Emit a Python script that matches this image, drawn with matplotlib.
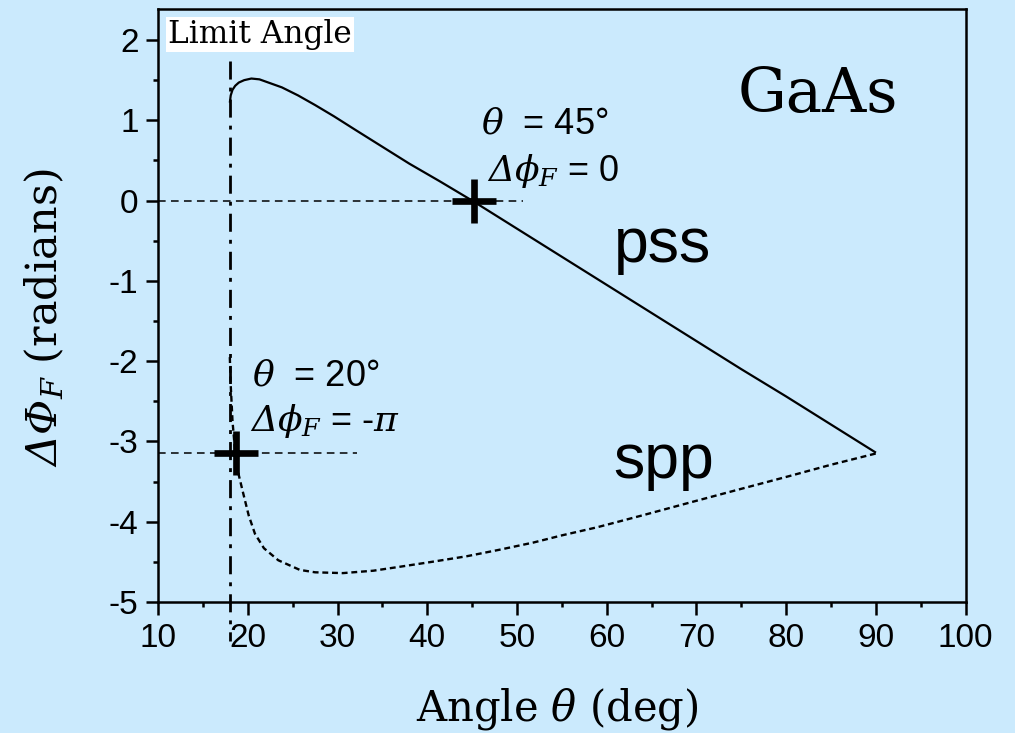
import numpy as np
import matplotlib
matplotlib.use("Agg")
import matplotlib.pyplot as plt

# Fresnel phase difference on total internal reflection, GaAs
pss_angle = [18.0, 18.1, 18.3, 18.6, 19.0, 19.6, 20.4, 21.3, 22.3, 23.8, 25.6, 27.5,
             29.6, 32.0, 35.0, 38.0, 41.4, 45.0, 50.0, 55.0, 60.0, 65.0, 70.0, 75.0,
             80.0, 85.0, 90.0]
pss_phase = [1.22, 1.31, 1.38, 1.43, 1.47, 1.50, 1.52, 1.51, 1.47, 1.41, 1.31, 1.19,
             1.05, 0.88, 0.67, 0.46, 0.24, 0.00, -0.35, -0.70, -1.05, -1.40, -1.75,
             -2.10, -2.44, -2.79, -3.14]

spp_angle = [18.0, 18.1, 18.3, 18.6, 19.0, 19.5, 20.1, 20.8, 21.8, 23.4, 25.8, 27.5,
             30.6, 34.0, 37.0, 40.5, 44.4, 48.0, 51.8, 55.0, 58.9, 64.0, 69.3, 75.0,
             80.4, 85.0, 90.0]
spp_phase = [-1.95, -2.30, -2.75, -3.14, -3.42, -3.65, -3.92, -4.15, -4.33, -4.48,
             -4.60, -4.63, -4.64, -4.61, -4.56, -4.50, -4.43, -4.35, -4.26, -4.17,
             -4.07, -3.92, -3.76, -3.59, -3.43, -3.29, -3.15]

limit_angle = 18.0
marked_angle = [45.2, 18.7]
marked_phase = [0.0, -np.pi]
guide_end = [50.7, 32.2]

x_ticks = [10, 20, 30, 40, 50, 60, 70, 80, 90, 100]
y_ticks = [-5, -4, -3, -2, -1, 0, 1, 2]

bg = "#cbeafd"
serif = "DejaVu Serif"
sans = "Liberation Sans"

plt.rcParams["font.family"] = [sans, "DejaVu Sans"]
plt.rcParams["axes.unicode_minus"] = False
# math symbols (Greek capitals included) are set in italic serif
plt.rcParams["mathtext.fontset"] = "custom"
plt.rcParams["mathtext.rm"] = serif + ":italic"
plt.rcParams["mathtext.it"] = serif + ":italic"
plt.rcParams["mathtext.bf"] = serif + ":bold"

fig = plt.figure(figsize=(10.15, 7.33), dpi=100, facecolor=bg)
ax = fig.add_axes([0.1557, 0.1787, 0.7957, 0.809])
ax.set_facecolor(bg)

ax.plot(pss_angle, pss_phase, color="black", lw=1.6, solid_capstyle="butt")
ax.plot(spp_angle, spp_phase, color="black", lw=1.7, linestyle=(0, (2.5, 1.6)))

# dashed guides to the marked points
for xa, ya, xe in zip(marked_angle, marked_phase, guide_end):
    ax.plot([10, xe], [ya, ya], color="black", lw=1.1, linestyle=(0, (5, 3.5)))

# limit angle line, running below the axis
ax.plot([limit_angle, limit_angle], [1.74, -5.48], color="black", lw=2.0,
        linestyle=(0, (6.5, 2.9, 1.4, 2.9)), clip_on=False, zorder=3)

ax.plot(marked_angle, marked_phase, linestyle="none", marker="+", ms=31, mew=4.8,
        color="black", zorder=4)

ax.set_xlim(10, 100)
ax.set_ylim(-5, 2.386)
ax.set_xticks(x_ticks)
ax.set_yticks(y_ticks)
ax.set_xticks(np.arange(15, 100, 10), minor=True)
ax.set_yticks(np.arange(-4.5, 2.4, 1), minor=True)
ax.tick_params(which="major", direction="out", length=9, width=1.8, labelsize=24)
ax.tick_params(axis="x", which="major", pad=6)
ax.tick_params(axis="y", which="major", pad=5)
ax.tick_params(which="minor", direction="out", length=3.8, width=1.8)
for s in ax.spines.values():
    s.set_linewidth(1.8)

ax.set_xlabel(r"Angle $\theta$ (deg)", family=serif, fontsize=30)
ax.xaxis.set_label_coords(0.494, -0.2, transform=ax.transAxes)
ax.xaxis.label.set_va("baseline")
ax.set_ylabel(r"$\Delta\Phi_F$ (radians)", family=serif, fontsize=31)
ax.yaxis.set_label_coords(-0.114, 0.48)

ax.text(11.1, 2.26, "Limit Angle", family=serif, fontsize=22.5, va="top", ha="left",
        bbox=dict(facecolor="white", edgecolor="none", pad=1.5))
ax.text(0.718, 0.826, "GaAs", transform=ax.transAxes, family=serif, fontsize=44,
        va="baseline", ha="left")
ax.text(0.564, 0.573, "pss", transform=ax.transAxes, fontsize=45, va="baseline")
ax.text(0.564, 0.209, "spp", transform=ax.transAxes, fontsize=45, va="baseline")

ax.text(46.0, 0.84, r"$\theta$  = 45°", fontsize=26, va="baseline")
ax.text(46.7, 0.25, r"$\Delta\phi_F$ = 0", fontsize=26, va="baseline")
ax.text(20.5, -2.3, r"$\theta$  = 20°", fontsize=26, va="baseline")
ax.text(20.3, -2.87, r"$\Delta\phi_F$ = -$\pi$", fontsize=26, va="baseline")

fig.savefig("out.png", dpi=100, facecolor=bg)
